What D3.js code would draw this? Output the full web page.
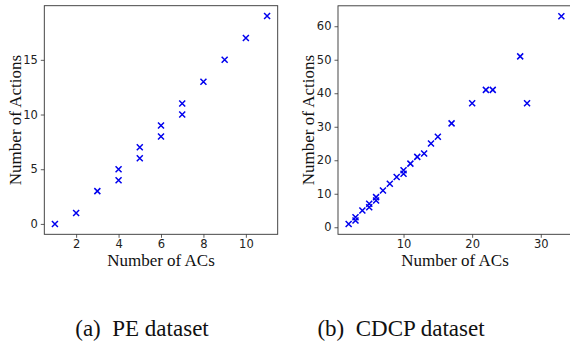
<!DOCTYPE html>
<html><head><meta charset="utf-8">
<script src="https://cdn.jsdelivr.net/npm/d3@7"></script>
<style>body{margin:0;background:#fff}svg{display:block}</style>
</head><body>
<svg id="c" width="570" height="345"></svg>
<script>
// PE dataset
const peACs     = [1,2,3,4,4,5,5,6,6,7,7,8,9,10,11];
const peActions = [0,1,3,4,5,6,7,8,9,10,11,13,15,17,19];
const peXTicks = [2,4,6,8,10];
const peYTicks = [0,5,10,15];
// CDCP dataset
const cdcpACs     = [2,3,3,4,5,5,6,6,7,8,9,10,10,11,12,13,14,15,17,20,22,23,27,28,33];
const cdcpActions = [1,2,3,5,6,7,8,9,11,13,15,16,17,19,21,22,25,27,31,37,41,41,51,37,63];
const cdcpXTicks = [10,20,30];
const cdcpYTicks = [0,10,20,30,40,50,60];
const xLabel = "Number of ACs", yLabel = "Number of Actions";
const captions = ["(a)\u2002PE dataset", "(b)\u2002CDCP dataset"];

const svg = d3.select("#c");
const serif = "'Liberation Serif','Times New Roman',serif";
const sans = "'DejaVu Sans',sans-serif";

function panel(cfg){
  const {xs, ys, xDom, yDom, box, xTicks, yTicks, yLabX, caption, capX} = cfg;
  const x = d3.scaleLinear().domain(xDom).range([box.l, box.r]);
  const y = d3.scaleLinear().domain(yDom).range([box.b, box.t]);
  const g = svg.append("g");
  const xa = g.append("g").attr("transform",`translate(0,${box.b})`)
    .call(d3.axisBottom(x).tickValues(xTicks).tickSize(3.5).tickPadding(2).tickSizeOuter(0));
  const ya = g.append("g").attr("transform",`translate(${box.l},0)`)
    .call(d3.axisLeft(y).tickValues(yTicks).tickSize(3.5).tickPadding(3).tickSizeOuter(0));
  [xa,ya].forEach(a=>{
    a.select(".domain").remove();
    a.selectAll("line").attr("stroke","#333").attr("stroke-width",0.8);
    a.selectAll("text").attr("font-family",sans).attr("font-size",11.5).attr("fill","#222");
  });
  g.append("rect").attr("x",box.l).attr("y",box.t).attr("width",box.r-box.l).attr("height",box.b-box.t)
    .attr("fill","none").attr("stroke","#333").attr("stroke-width",0.9);
  const s = 3;
  g.append("g").selectAll("path").data(xs.map((v,i)=>[v,ys[i]])).join("path")
    .attr("d", d=>{const cx=x(d[0]), cy=y(d[1]); return `M${cx-s},${cy-s}L${cx+s},${cy+s}M${cx-s},${cy+s}L${cx+s},${cy-s}`;})
    .attr("stroke","#0000ee").attr("stroke-width",1.5).attr("fill","none");
  g.append("text").attr("x",(box.l+box.r)/2).attr("y",box.b+31.5).attr("text-anchor","middle")
    .attr("font-family",serif).attr("font-size",17).attr("fill","#111").text(xLabel);
  g.append("text").attr("transform",`translate(${yLabX},${(box.t+box.b)/2}) rotate(-90)`)
    .attr("text-anchor","middle").attr("font-family",serif).attr("font-size",17).attr("fill","#111").text(yLabel);
  g.append("text").attr("x",capX).attr("y",336).attr("text-anchor","middle")
    .attr("font-family",serif).attr("font-size",23).attr("fill","#111").text(caption);
}

panel({xs:peACs, ys:peActions, xDom:[0.5,11.5], yDom:[-0.95,19.95],
  box:{l:44.3,r:277.7,t:5.7,b:234.3}, xTicks:peXTicks, yTicks:peYTicks, yLabX:21, caption:captions[0], capX:142});
panel({xs:cdcpACs, ys:cdcpActions, xDom:[0.45,34.55], yDom:[-2.1,66.1],
  box:{l:338,r:572,t:5.8,b:234.3}, xTicks:cdcpXTicks, yTicks:cdcpYTicks, yLabX:314, caption:captions[1], capX:401});
</script>
</body></html>
